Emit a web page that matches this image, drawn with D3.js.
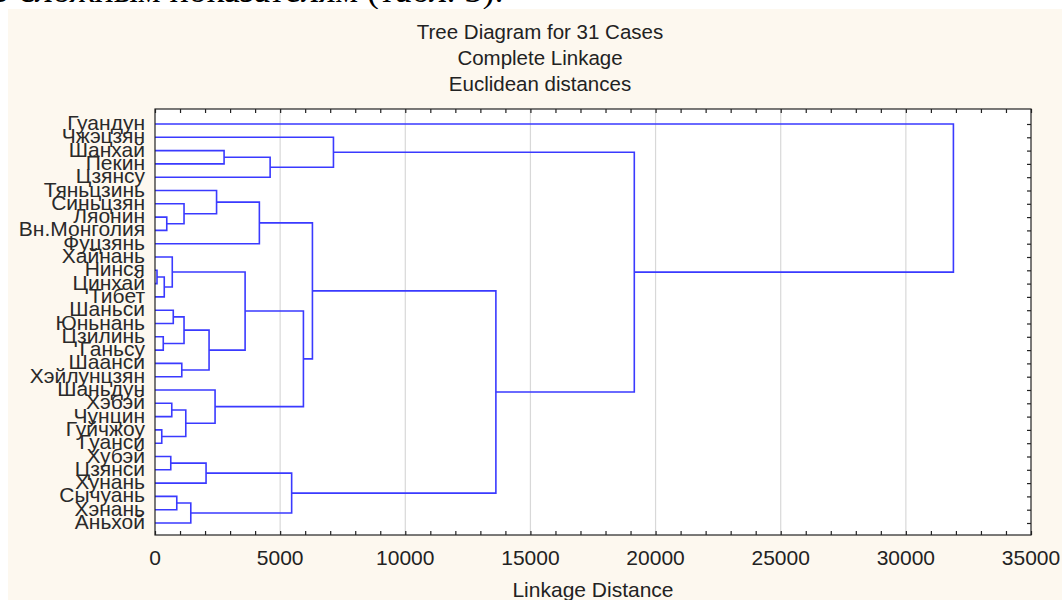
<!DOCTYPE html>
<html>
<head>
<meta charset="utf-8">
<script src="https://cdn.jsdelivr.net/npm/d3@7"></script>
<style>
  body { margin: 0; background: #fff; }
  svg { display: block; }
</style>
</head>
<body>
<svg id="chart" width="1062" height="600"></svg>
<script>
// leaves, top to bottom as shown
const leaves = ["Гуандун", "Чжэцзян", "Шанхай", "Пекин", "Цзянсу", "Тяньцзинь", "Синьцзян",
  "Ляонин", "Вн.Монголия", "Фуцзянь", "Хайнань", "Нинся", "Цинхай", "Тибет", "Шаньси",
  "Юньнань", "Цзилинь", "Ганьсу", "Шаанси", "Хэйлунцзян", "Шаньдун", "Хэбэй", "Чунцин",
  "Гуйчжоу", "Гуанси", "Хубэй", "Цзянси", "Хунань", "Сычуань", "Хэнань", "Аньхой"];

// linkage rows: [child a, child b, distance]; index < 31 = leaf, else merge (index - 31)
const merges = [
  [11, 12, 80], [23, 24, 270], [16, 17, 330], [31, 13, 370], [7, 8, 470],
  [25, 26, 630], [21, 22, 670], [10, 34, 690], [14, 15, 730], [28, 29, 870],
  [18, 19, 1070], [6, 35, 1160], [39, 33, 1160], [37, 32, 1230], [40, 30, 1430],
  [36, 27, 2040], [43, 41, 2160], [5, 42, 2460], [20, 44, 2400], [2, 3, 2760],
  [38, 47, 3600], [48, 9, 4170], [50, 4, 4600], [46, 45, 5460], [51, 49, 5930],
  [52, 55, 6290], [1, 53, 7130], [56, 54, 13620], [57, 58, 19150], [0, 59, 31900]
];

const titleLines = ["Tree Diagram for 31 Cases", "Complete Linkage", "Euclidean distances"];
const xTicks = [0, 5000, 10000, 15000, 20000, 25000, 30000, 35000];

const svg = d3.select("#chart");
const pLeft = 155, pRight = 1031, pTop = 109, pBottom = 535;
const font = "Liberation Sans, Arial";

// page strip from the document above
svg.append("text").text("э сложным показателям (табл. 3).")
  .attr("x", -6).attr("y", 2)
  .attr("font-family", "Liberation Serif").attr("font-size", 36).attr("fill", "#000");

svg.append("rect").attr("x", 8).attr("y", 9).attr("width", 1054).attr("height", 591)
  .attr("fill", "#fdf8ef");

svg.selectAll(".title").data(titleLines).enter().append("text")
  .attr("x", 540).attr("y", (d, i) => 39 + i * 26)
  .attr("text-anchor", "middle")
  .attr("font-family", font).attr("font-size", 20.5).attr("fill", "#222")
  .text(d => d);

const x = d3.scaleLinear().domain([0, 35000]).range([pLeft, pRight]);
const y = d3.scalePoint().domain(d3.range(leaves.length)).range([124, 523]);

svg.append("rect").attr("x", pLeft).attr("y", pTop).attr("width", pRight - pLeft).attr("height", pBottom - pTop)
  .attr("fill", "#fff");

// grid
svg.selectAll(".grid").data(xTicks.slice(1, -1)).enter().append("line")
  .attr("x1", d => x(d)).attr("x2", d => x(d)).attr("y1", pTop).attr("y2", pBottom)
  .attr("stroke", "#d8d8d8").attr("stroke-width", 1.2);

// node positions
const pos = leaves.map((d, i) => ({ x: x(0), y: y(i) }));
const links = [];
merges.forEach(([a, b, h]) => {
  const pa = pos[a], pb = pos[b], hx = x(h);
  links.push(`M${pa.x},${pa.y}H${hx}V${pb.y}H${pb.x}`);
  pos.push({ x: hx, y: (pa.y + pb.y) / 2 });
});

svg.selectAll(".link").data(links).enter().append("path")
  .attr("d", d => d).attr("fill", "none")
  .attr("stroke", "#3a3aff").attr("stroke-width", 1.6);

// axes
const xb = d3.axisBottom(x).tickValues(d3.range(0, 35001, 1000)).tickSize(-4).tickFormat("");
svg.append("g").attr("transform", `translate(0,${pBottom})`).call(xb);
const xt = d3.axisTop(x).tickValues(d3.range(0, 35001, 1000)).tickSize(-4).tickFormat("");
svg.append("g").attr("transform", `translate(0,${pTop})`).call(xt);
const yr = d3.axisRight(y).tickSize(-4).tickFormat("");
svg.append("g").attr("transform", `translate(${pRight},0)`).call(yr);
svg.selectAll(".domain").remove();
svg.selectAll(".tick line").attr("stroke", "#222").attr("stroke-width", 1.2);

svg.append("rect").attr("x", pLeft).attr("y", pTop).attr("width", pRight - pLeft).attr("height", pBottom - pTop)
  .attr("fill", "none").attr("stroke", "#222").attr("stroke-width", 1.2);

svg.selectAll(".xl").data(xTicks).enter().append("text")
  .attr("x", d => x(d)).attr("y", 565).attr("text-anchor", "middle")
  .attr("font-family", font).attr("font-size", 21).attr("fill", "#222")
  .text(d => d);

svg.append("text").text("Linkage Distance").attr("x", 593).attr("y", 597)
  .attr("text-anchor", "middle")
  .attr("font-family", font).attr("font-size", 21).attr("fill", "#222");

// leaf labels
svg.selectAll(".leaf").data(leaves).enter().append("text")
  .attr("x", 145).attr("y", (d, i) => y(i) + 6).attr("text-anchor", "end")
  .attr("font-family", font).attr("font-size", 21).attr("fill", "#2a2a2a")
  .text(d => d);
</script>
</body>
</html>
